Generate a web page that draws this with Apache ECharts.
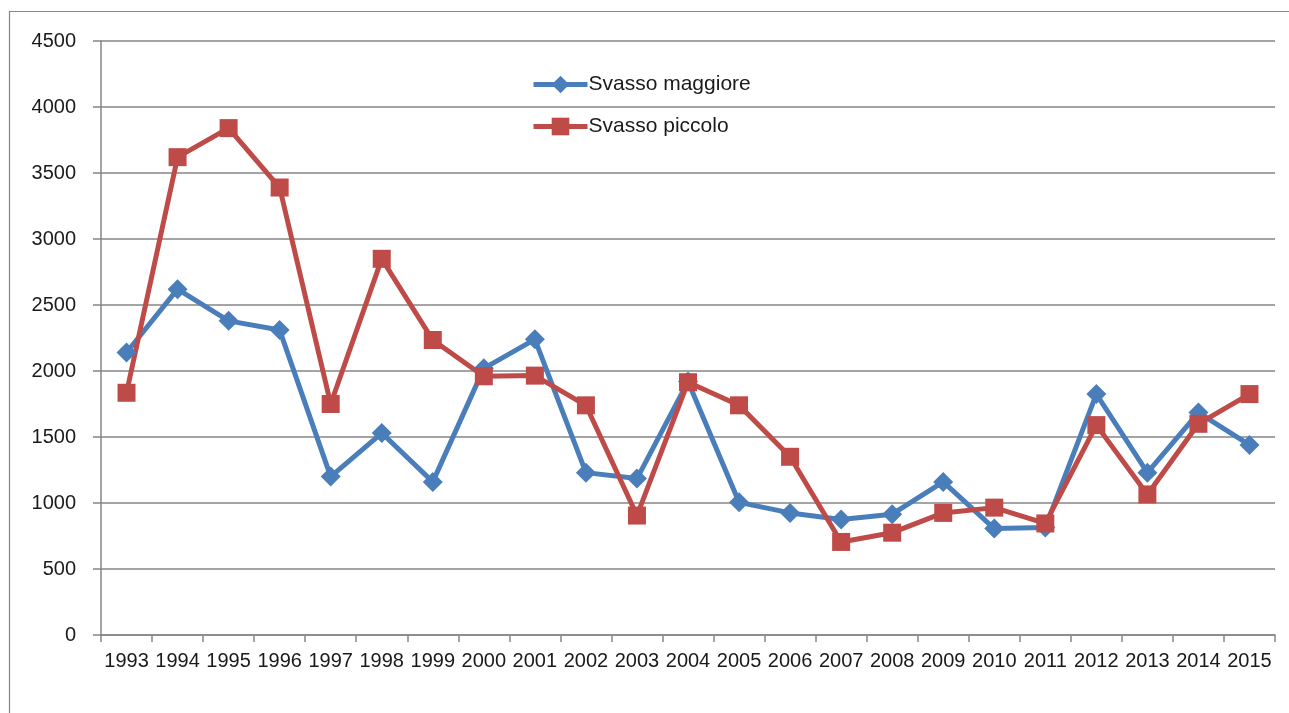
<!DOCTYPE html>
<html><head><meta charset="utf-8">
<script src="https://cdn.jsdelivr.net/npm/echarts@6/dist/echarts.min.js"></script>
<style>html,body{margin:0;padding:0;background:#fff}#c{width:1289px;height:713px}</style>
</head><body><div id="c"></div>
<script>
const years = ['1993','1994','1995','1996','1997','1998','1999','2000','2001','2002','2003','2004','2005','2006','2007','2008','2009','2010','2011','2012','2013','2014','2015'];
const svassoMaggiore = [2140,2620,2380,2310,1200,1530,1160,2020,2240,1230,1185,1920,1005,925,875,915,1160,806,815,1825,1230,1685,1440];
const svassoPiccolo = [1835,3620,3840,3390,1750,2850,2235,1960,1965,1740,905,1915,1740,1350,705,775,925,965,845,1590,1065,1600,1825];
const seriesNames = ['Svasso maggiore','Svasso piccolo'];
const colors = ['#4A7EBB','#BE4B48'];
const FONT = 'Liberation Sans';
const chart = echarts.init(document.getElementById('c'));
chart.setOption({
  animation:false,
  backgroundColor:'#fff',
  graphic:[{type:'rect',shape:{x:9.5,y:11.5,width:1400,height:800},style:{fill:'none',stroke:'#868686',lineWidth:1.2}}],
  grid:{left:101,right:14,top:41,bottom:78,containLabel:false},
  legend:{orient:'vertical',left:531,top:74,padding:0,itemWidth:54,itemHeight:22,itemGap:21,
    textStyle:{fontFamily:FONT,fontSize:21,color:'#1a1a1a',padding:[0,0,0,-4]},
    data:[
      {name:seriesNames[0],lineStyle:{width:5,color:colors[0]},itemStyle:{color:colors[0]}},
      {name:seriesNames[1],lineStyle:{width:5,color:colors[1]},itemStyle:{color:colors[1]}}
    ]},
  xAxis:{type:'category',data:years,boundaryGap:true,
    axisLine:{lineStyle:{color:'#868686',width:1.5}},
    axisTick:{show:true,length:7,lineStyle:{color:'#868686',width:1.5},alignWithLabel:false},
    axisLabel:{fontFamily:FONT,fontSize:20,color:'#1a1a1a',margin:16,interval:0}},
  yAxis:{type:'value',min:0,max:4500,interval:500,
    axisLine:{show:true,lineStyle:{color:'#868686',width:1.5}},
    axisTick:{show:true,length:8,lineStyle:{color:'#868686',width:1.5}},
    axisLabel:{fontFamily:FONT,fontSize:20,color:'#1a1a1a',margin:25,formatter:v=>String(v)},
    splitLine:{lineStyle:{color:'#868686',width:1.5}}},
  series:[
    {name:seriesNames[0],type:'line',data:svassoMaggiore,symbol:'diamond',symbolSize:20,
     itemStyle:{color:colors[0]},lineStyle:{color:colors[0],width:5}},
    {name:seriesNames[1],type:'line',data:svassoPiccolo,symbol:'rect',symbolSize:18,
     itemStyle:{color:colors[1]},lineStyle:{color:colors[1],width:5}}
  ]
});
</script></body></html>
